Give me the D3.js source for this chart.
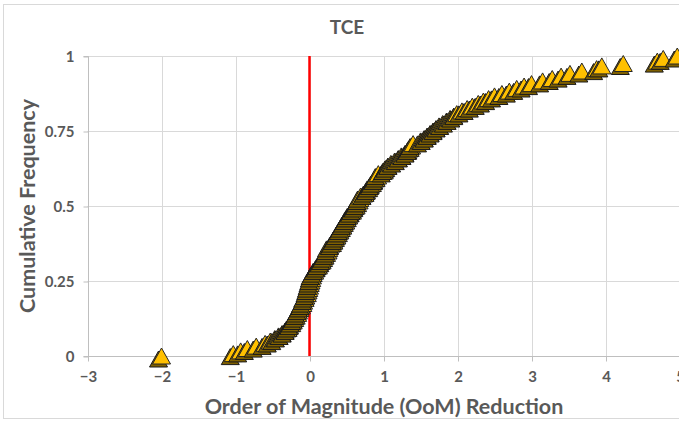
<!DOCTYPE html>
<html>
<head>
<meta charset="utf-8">
<script src="https://cdn.jsdelivr.net/npm/d3@7/dist/d3.min.js"></script>
<style>
  html, body { margin: 0; padding: 0; background: #fff; }
  svg { display: block; }
  text { font-family: Lato, "Open Sans", sans-serif; font-weight: bold; fill: #595959; }
</style>
</head>
<body>
<svg id="chart" width="679" height="423"></svg>
<script>
// Order-of-magnitude reduction for each TCE observation, sorted ascending
const oomReduction = [
  -2.00, -1.03, -0.93, -0.84, -0.72, -0.60, -0.53, -0.47, -0.42, -0.37,
  -0.33, -0.29, -0.27, -0.24, -0.22, -0.20, -0.18, -0.16, -0.15, -0.13,
  -0.11, -0.09, -0.08, -0.06, -0.05, -0.03, -0.02, -0.01, 0.00, 0.01,
  0.02, 0.03, 0.04, 0.05, 0.07, 0.09, 0.12, 0.14, 0.17, 0.19,
  0.21, 0.23, 0.25, 0.26, 0.27, 0.31, 0.33, 0.35, 0.37, 0.39,
  0.41, 0.43, 0.45, 0.47, 0.49, 0.51, 0.53, 0.55, 0.58, 0.60,
  0.63, 0.65, 0.67, 0.68, 0.69, 0.75, 0.77, 0.80, 0.82, 0.85,
  0.87, 0.90, 0.92, 0.93, 1.01, 1.03, 1.06, 1.10, 1.15, 1.20,
  1.24, 1.29, 1.33, 1.36, 1.38, 1.40, 1.50, 1.55, 1.59, 1.63,
  1.67, 1.71, 1.75, 1.80, 1.85, 1.90, 1.95, 1.99, 2.06, 2.13,
  2.20, 2.28, 2.35, 2.42, 2.50, 2.60, 2.70, 2.80, 2.90, 3.00,
  3.15, 3.28, 3.40, 3.52, 3.68, 3.88, 3.95, 4.24, 4.70, 4.78,
  4.97
];

// Cumulative frequency of each observation
const cumFrequency = [
  0.000, 0.008, 0.017, 0.025, 0.033, 0.042, 0.050, 0.058, 0.067, 0.075,
  0.083, 0.092, 0.100, 0.108, 0.117, 0.125, 0.133, 0.142, 0.150, 0.158,
  0.167, 0.175, 0.183, 0.192, 0.200, 0.208, 0.217, 0.225, 0.233, 0.242,
  0.250, 0.258, 0.267, 0.275, 0.283, 0.292, 0.300, 0.308, 0.317, 0.325,
  0.333, 0.342, 0.350, 0.358, 0.367, 0.375, 0.383, 0.392, 0.400, 0.408,
  0.417, 0.425, 0.433, 0.442, 0.450, 0.458, 0.467, 0.475, 0.483, 0.492,
  0.500, 0.508, 0.517, 0.525, 0.533, 0.542, 0.550, 0.558, 0.567, 0.575,
  0.583, 0.592, 0.600, 0.608, 0.617, 0.625, 0.633, 0.642, 0.650, 0.658,
  0.667, 0.675, 0.683, 0.692, 0.700, 0.708, 0.717, 0.725, 0.733, 0.742,
  0.750, 0.758, 0.767, 0.775, 0.783, 0.792, 0.800, 0.808, 0.817, 0.825,
  0.833, 0.842, 0.850, 0.858, 0.867, 0.875, 0.883, 0.892, 0.900, 0.908,
  0.917, 0.925, 0.933, 0.942, 0.950, 0.958, 0.967, 0.975, 0.983, 0.992,
  1.000
];

const xTicks = [-3, -2, -1, 0, 1, 2, 3, 4, 5];
const yTicks = [0, 0.25, 0.5, 0.75, 1];
const yTickLabels = ["0", "0.25", "0.5", "0.75", "1"];
const referenceLineX = 0;

const svg = d3.select("#chart");

const x = d3.scaleLinear().domain([-3, 5]).range([87.5, 679.5]);
const y = d3.scaleLinear().domain([0, 1]).range([356, 56]);

// outer chart frame
svg.append("rect")
  .attr("x", 3.5).attr("y", 4.5)
  .attr("width", 700).attr("height", 414)
  .attr("fill", "#fff").attr("stroke", "#d9d9d9").attr("stroke-width", 1);

// gridlines
const grid = svg.append("g");
grid.selectAll("line.v").data(xTicks.filter(d => d !== -3)).join("line")
  .attr("x1", d => Math.round(x(d)) + 0.5).attr("x2", d => Math.round(x(d)) + 0.5)
  .attr("y1", y(0)).attr("y2", y(1))
  .attr("stroke", "#d9d9d9").attr("stroke-width", 1);
grid.selectAll("line.h").data(yTicks.filter(d => d !== 0)).join("line")
  .attr("x1", x(-3)).attr("x2", x(5))
  .attr("y1", d => Math.round(y(d)) + 0.5).attr("y2", d => Math.round(y(d)) + 0.5)
  .attr("stroke", "#d9d9d9").attr("stroke-width", 1);

// y axis
const yAxis = d3.axisLeft(y).tickValues(yTicks)
  .tickFormat((d, i) => yTickLabels[i]).tickSize(5).tickPadding(9);
const gy = svg.append("g").attr("transform", `translate(${Math.round(x(-3)) + 0.5},0.5)`).call(yAxis);
gy.select(".domain").attr("stroke", "#bfbfbf").attr("d", `M-5,${y(1)}H0V${y(0)}H-5`);
gy.selectAll(".tick line").attr("stroke", "#bfbfbf");
gy.selectAll(".tick text").style("font-size", "15px").attr("fill", "#595959");

// x axis on the zero line
const xAxis = d3.axisBottom(x).tickValues(xTicks).tickSize(5).tickPadding(10);
const gx = svg.append("g").attr("transform", `translate(0.5,${Math.round(y(0)) + 0.5})`).call(xAxis);
gx.select(".domain").attr("stroke", "#bfbfbf").attr("d", `M${x(-3)},0H${x(5)}`);
gx.selectAll(".tick line").attr("stroke", "#bfbfbf");
gx.selectAll(".tick text").style("font-size", "15px").attr("fill", "#595959");

// zero-reduction reference line
svg.append("line")
  .attr("x1", x(referenceLineX)).attr("x2", x(referenceLineX))
  .attr("y1", y(0)).attr("y2", y(1))
  .attr("stroke", "#ff0000").attr("stroke-width", 2.5);

// triangle markers with drop shadow
const tri = "M0,-8L9,8L-9,8Z";
const points = oomReduction.map((v, i) => ({ v, f: cumFrequency[i] }));
const marks = svg.append("g").selectAll("g").data(points).join("g")
  .attr("transform", d => `translate(${x(d.v)},${y(d.f)})`);
marks.append("path").attr("d", tri)
  .attr("transform", "translate(-3,3)")
  .attr("fill", "#7f6000").attr("stroke", "#1a1a1a").attr("stroke-width", 1);
marks.append("path").attr("d", tri)
  .attr("fill", "#ffc000").attr("stroke", "#262626").attr("stroke-width", 1);

// titles
svg.append("text").attr("x", 347).attr("y", 34)
  .attr("text-anchor", "middle").style("font-size", "19px").text("TCE");
svg.append("text").attr("x", 384).attr("y", 414)
  .attr("text-anchor", "middle").style("font-size", "21.5px")
  .text("Order of Magnitude (OoM) Reduction");
svg.append("text")
  .attr("transform", `translate(35,${(y(0) + y(1)) / 2}) rotate(-90)`)
  .attr("text-anchor", "middle").style("font-size", "21.5px")
  .text("Cumulative Frequency");
</script>
</body>
</html>
